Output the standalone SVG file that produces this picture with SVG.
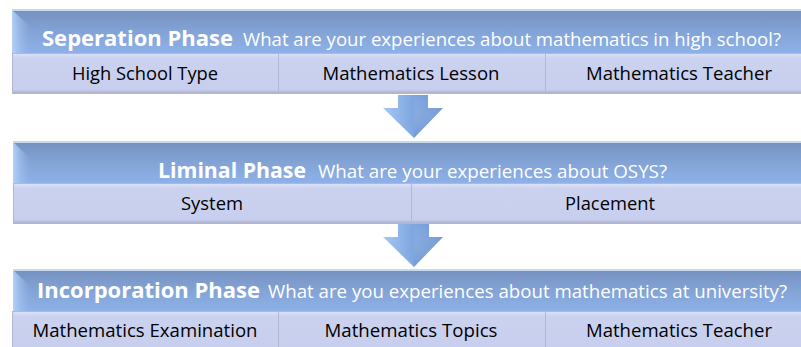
<svg xmlns="http://www.w3.org/2000/svg" width="801" height="347" viewBox="0 0 801 347">
<defs>
<linearGradient id="hdr" x1="0" y1="0" x2="0" y2="1">
<stop offset="0" stop-color="#7691bf"/>
<stop offset="0.5" stop-color="#83a3d6"/>
<stop offset="1" stop-color="#8db1e8"/>
</linearGradient>
<linearGradient id="hdrL" x1="0" y1="0" x2="1" y2="0">
<stop offset="0" stop-color="#b4d0f8"/>
<stop offset="1" stop-color="#8fb2e6" stop-opacity="0"/>
</linearGradient>
<linearGradient id="cell" x1="0" y1="0" x2="0" y2="1">
<stop offset="0" stop-color="#dde2f7"/>
<stop offset="0.12" stop-color="#cbd2f0"/>
<stop offset="0.9" stop-color="#c8cfee"/>
<stop offset="1" stop-color="#a8aec8"/>
</linearGradient>
<linearGradient id="arw" x1="0" y1="0" x2="1" y2="0">
<stop offset="0" stop-color="#a8c8f2"/>
<stop offset="0.5" stop-color="#7ea6e0"/>
<stop offset="1" stop-color="#6d95d2"/>
</linearGradient>
<linearGradient id="arwV" x1="0" y1="0" x2="0" y2="1">
<stop offset="0" stop-color="#ffffff" stop-opacity="0"/>
<stop offset="1" stop-color="#5f86c4" stop-opacity="0.35"/>
</linearGradient>
</defs>
<style>
.hdr{fill:url(#hdr)}
.hl{fill:#c6d7f2}
.bev{fill:url(#hdrL)}
.cell{fill:url(#cell);stroke:#b2b8d2;stroke-width:1}
.ttl{font-family:"Open Sans","Liberation Sans",sans-serif;font-weight:bold;font-size:21px;fill:#ffffff}
.q{font-family:"Open Sans","Liberation Sans",sans-serif;font-size:18px;fill:#ffffff}
.lbl{font-family:"Open Sans","Liberation Sans",sans-serif;font-size:18px;fill:#000000;text-anchor:middle}
.arrow{fill:url(#arw)}
.arrowS{fill:url(#arwV)}
</style>
<rect width="801" height="347" fill="#ffffff"/>

<g id="connectors">
<g id="arrow1">
<polygon class="arrow" points="398,95 428,95 428,108 443,108 414,138 383,108 398,108"/>
<polygon class="arrowS" points="414,95 428,95 428,108 443,108 414,138"/>
</g>
<g id="arrow2">
<polygon class="arrow" points="398,223 429,223 429,237 443,237 414,267 383,237 398,237"/>
<polygon class="arrowS" points="414,223 429,223 429,237 443,237 414,267"/>
</g>
</g>

<g id="separation-phase">
<rect class="hdr" x="12" y="10" width="789" height="43"/>
<rect class="hl" x="12" y="9" width="789" height="2"/>
<polygon class="bev" points="12,10 32,28 32,53 12,53"/>
<text x="42" y="46"><tspan class="ttl" textLength="191" lengthAdjust="spacingAndGlyphs">Seperation Phase</tspan><tspan class="q" x="243" textLength="538" lengthAdjust="spacingAndGlyphs">What are your experiences about mathematics in high school?</tspan></text>
</g>
<g id="high-school-type">
<rect class="cell" x="12.5" y="53.5" width="266" height="40"/>
<text class="lbl" x="145" y="80" textLength="146" lengthAdjust="spacingAndGlyphs">High School Type</text>
</g>
<g id="mathematics-lesson">
<rect class="cell" x="278.5" y="53.5" width="267" height="40"/>
<text class="lbl" x="411" y="80" textLength="177" lengthAdjust="spacingAndGlyphs">Mathematics Lesson</text>
</g>
<g id="mathematics-teacher-1">
<rect class="cell" x="545.5" y="53.5" width="270" height="40"/>
<text class="lbl" x="679" y="80" textLength="186" lengthAdjust="spacingAndGlyphs">Mathematics Teacher</text>
</g>

<g id="liminal-phase">
<rect class="hdr" x="13" y="142" width="788" height="41"/>
<rect class="hl" x="13" y="141" width="788" height="2"/>
<polygon class="bev" points="13,142 32,160 32,183 13,183"/>
<text x="158" y="178"><tspan class="ttl" textLength="148" lengthAdjust="spacingAndGlyphs">Liminal Phase</tspan><tspan class="q" x="318" textLength="349" lengthAdjust="spacingAndGlyphs">What are your experiences about OSYS?</tspan></text>
</g>
<g id="system">
<rect class="cell" x="13.5" y="183.5" width="398" height="40"/>
<text class="lbl" x="212" y="210" textLength="62" lengthAdjust="spacingAndGlyphs">System</text>
</g>
<g id="placement">
<rect class="cell" x="411.5" y="183.5" width="400" height="40"/>
<text class="lbl" x="610" y="210" textLength="90" lengthAdjust="spacingAndGlyphs">Placement</text>
</g>

<g id="incorporation-phase">
<rect class="hdr" x="13" y="270" width="788" height="41"/>
<rect class="hl" x="13" y="269" width="788" height="2"/>
<polygon class="bev" points="13,270 32,288 32,311 13,311"/>
<text x="37" y="298"><tspan class="ttl" textLength="223" lengthAdjust="spacingAndGlyphs">Incorporation Phase</tspan><tspan class="q" x="268" textLength="519" lengthAdjust="spacingAndGlyphs">What are you experiences about mathematics at university?</tspan></text>
</g>
<g id="mathematics-examination">
<rect class="cell" x="12.5" y="311.5" width="266" height="40"/>
<text class="lbl" x="145" y="337" textLength="225" lengthAdjust="spacingAndGlyphs">Mathematics Examination</text>
</g>
<g id="mathematics-topics">
<rect class="cell" x="278.5" y="311.5" width="267" height="40"/>
<text class="lbl" x="411" y="337" textLength="173" lengthAdjust="spacingAndGlyphs">Mathematics Topics</text>
</g>
<g id="mathematics-teacher-2">
<rect class="cell" x="545.5" y="311.5" width="270" height="40"/>
<text class="lbl" x="679" y="337" textLength="186" lengthAdjust="spacingAndGlyphs">Mathematics Teacher</text>
</g>
</svg>
